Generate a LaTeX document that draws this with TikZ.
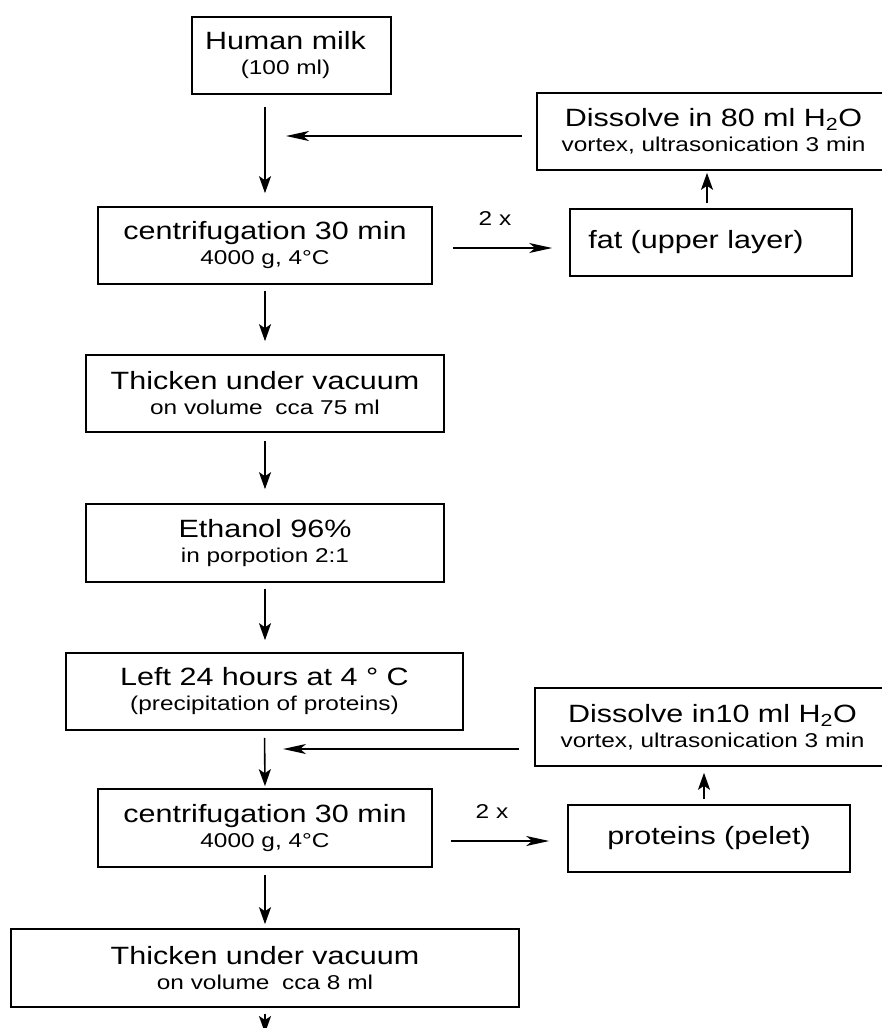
\documentclass[tikz,border=0pt]{standalone}
\usepackage{fontspec}
\setmainfont{Liberation Sans}[FakeStretch=1.22]
\usetikzlibrary{arrows.meta}
\newcommand{\smf}{\fontsize{20}{22}\selectfont}
\begin{document}
\begin{tikzpicture}[x=1pt,y=-1pt,
  box/.style={draw, line width=1.6pt, align=center, inner sep=0pt, font=\fontsize{25}{25}\selectfont},
  varr/.style={line width=1.6pt, -{Stealth[length=17pt,width=12pt,inset=4pt]}},
  harr/.style={line width=1.6pt, -{Stealth[length=23pt,width=10pt,inset=6pt]}},
  lbl/.style={font=\fontsize{20}{22}\selectfont, inner sep=0pt}]
\useasboundingbox (0,0) rectangle (882,1028);
\clip (0,0) rectangle (882,1028);
% nodes
\node[box, minimum width=199pt, minimum height=77pt] (milk) at (291.5,55.5) {Human milk\hspace*{12pt}\\{\smf (100 ml)\hspace*{12pt}}};
\node[box, minimum width=353pt, minimum height=77pt] (diss1) at (713.5,131.5) {Dissolve in 80 ml H\textsubscript{2}O\\{\smf vortex, ultrasonication 3 min}};
\node[box, minimum width=282pt, minimum height=67pt] (fat) at (711,242.5) {fat (upper layer)\hspace*{30pt}};
\node[box, minimum width=334pt, minimum height=77pt] (cent1) at (265,245.5) {centrifugation 30 min\\{\smf 4000 g, 4°C}};
\node[box, minimum width=358pt, minimum height=77pt] (thick1) at (265,393.5) {Thicken under vacuum\\{\smf on volume\hspace{6pt} cca 75 ml}};
\node[box, minimum width=358pt, minimum height=78pt] (eth) at (265,543) {Ethanol 96\%\\{\smf in porpotion 2:1}};
\node[box, minimum width=397pt, minimum height=77pt] (left) at (264.5,691.5) {Left 24 hours at 4 ° C\\{\smf (precipitation of proteins)}};
\node[box, minimum width=355pt, minimum height=78pt] (diss2) at (712.5,727) {Dissolve in10 ml H\textsubscript{2}O\\{\smf vortex, ultrasonication 3 min}};
\node[box, minimum width=282pt, minimum height=67pt] (prot) at (709,838.5) {proteins (pelet)};
\node[box, minimum width=334pt, minimum height=78pt] (cent2) at (265,828) {centrifugation 30 min\\{\smf 4000 g, 4°C}};
\node[box, minimum width=508pt, minimum height=78pt] (thick2) at (265,968) {Thicken under vacuum\\{\smf on volume\hspace{6pt} cca 8 ml}};
\node[lbl] (x1) at (495,219) {2 x};
\node[lbl] (x2) at (492,812) {2 x};
% connectors
\coordinate (j1) at (286,136);
\coordinate (j2) at (283,749);
\coordinate (end) at (265,1033);
\draw[varr, shorten <=12pt, shorten >=13pt] (cent1.north |- milk.south) -- (cent1.north);
\draw[harr, shorten <=14pt] (diss1.west |- j1) -- (j1);
\draw[harr, shorten <=20pt, shorten >=17pt] ([yshift=-2.5pt]cent1.east) -- ([yshift=-2.5pt]cent1.east -| fat.west);
\draw[varr, shorten <=5pt, shorten >=2pt] ([xshift=-4pt]fat.north) -- ([xshift=-4pt]fat.north |- diss1.south);
\draw[varr, shorten <=6pt, shorten >=13pt] (cent1.south) -- (thick1.north);
\draw[varr, shorten <=8pt, shorten >=14pt] (thick1.south) -- (eth.north);
\draw[varr, shorten <=6pt, shorten >=12pt] (eth.south) -- (eth.south |- left.north);
\draw[varr, shorten <=7pt, shorten >=2pt] (left.south) -- (cent2.north);
\draw[harr, shorten <=15pt] (diss2.west |- j2) -- (j2);
\draw[harr, shorten <=18pt, shorten >=18pt] ([yshift=-13pt]cent2.east) -- ([yshift=-13pt]cent2.east -| prot.west);
\draw[varr, shorten <=5pt, shorten >=6pt] ([xshift=-5pt]prot.north) -- ([xshift=-5pt]prot.north |- diss2.south);
\draw[varr, shorten <=7pt, shorten >=4pt] (cent2.south) -- (thick2.north);
\draw[varr, shorten <=6pt] (thick2.south) -- (end);
\end{tikzpicture}
\end{document}
